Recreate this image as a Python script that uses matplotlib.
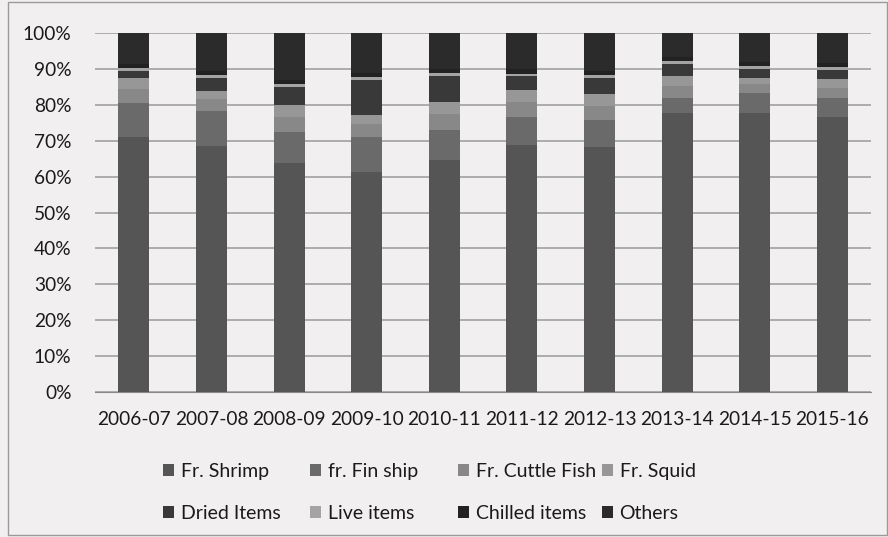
import numpy as np
import matplotlib.pyplot as plt
from matplotlib.ticker import PercentFormatter

plt.rcParams['font.family'] = ['Lato', 'DejaVu Sans']

years = ["2006-07", "2007-08", "2008-09", "2009-10", "2010-11",
         "2011-12", "2012-13", "2013-14", "2014-15", "2015-16"]

# share of export value, percent
shrimp = [71.1, 68.5, 63.9, 61.4, 64.6, 68.8, 68.3, 77.8, 77.8, 76.5]
fin_fish = [9.3, 9.9, 8.6, 9.7, 8.4, 7.9, 7.5, 4.0, 5.6, 5.3]
cuttle = [4.1, 3.1, 4.2, 3.5, 4.5, 4.2, 4.0, 3.5, 2.3, 3.0]
squid = [3.0, 2.4, 3.2, 2.6, 3.4, 3.2, 3.1, 2.7, 1.7, 2.3]
dried = [1.9, 3.5, 5.0, 9.7, 7.1, 3.8, 4.5, 3.4, 2.6, 2.6]
live = [0.8, 0.8, 0.8, 0.8, 0.8, 0.8, 0.8, 0.8, 0.8, 0.8]
chilled = [1.2, 1.2, 1.2, 1.2, 1.2, 1.2, 1.2, 1.2, 1.2, 1.2]
others = [8.6, 10.6, 13.1, 11.1, 10.0, 10.1, 10.6, 6.6, 8.0, 8.3]

labels = ["Fr. Shrimp", "fr. Fin ship", "Fr. Cuttle Fish", "Fr. Squid",
          "Dried Items", "Live items", "Chilled items", "Others"]
series = [shrimp, fin_fish, cuttle, squid, dried, live, chilled, others]
colors = ["#555555", "#6a6a6a", "#888888", "#979797",
          "#393939", "#a4a4a4", "#222222", "#2b2b2b"]

bg = "#f2eff1"
txt = "#1a1a1a"
fig = plt.figure(figsize=(8.88, 5.37), dpi=100, facecolor=bg)
ax = fig.add_axes([0.107, 0.270, 0.874, 0.6685], facecolor=bg)

x = np.arange(len(years))
bottom = np.zeros(len(years))
handles = []
for vals, lab, col in zip(series, labels, colors):
    v = np.array(vals)
    h = ax.bar(x, v, 0.4, bottom=bottom, color=col, label=lab, zorder=3)
    handles.append(h)
    bottom += v

ax.set_xlim(-0.5, len(years) - 0.5)
ax.set_ylim(0, 100)
ax.set_yticks(np.arange(0, 101, 10))
ax.yaxis.set_major_formatter(PercentFormatter(decimals=0))
ax.set_xticks(x)
ax.set_xticklabels(years)
ax.grid(axis='y', color='#9a9a9a', linewidth=1.1, zorder=0)
ax.tick_params(length=0, labelsize=13.8, colors=txt)
ax.tick_params(axis='y', pad=17)
ax.tick_params(axis='x', pad=14)
for s in ['top', 'right', 'left']:
    ax.spines[s].set_visible(False)
ax.spines['bottom'].set_color('#8a8a8a')

# legend: four columns of two entries, placed one column at a time
col_x = [163 / 888, 310 / 888, 458 / 888, 602 / 888]
for c, cx in enumerate(col_x):
    leg = fig.legend([handles[c], handles[c + 4]], [labels[c], labels[c + 4]],
                     loc='upper left', bbox_to_anchor=(cx, 0.138),
                     frameon=False, fontsize=14, handlelength=0.55,
                     handleheight=0.55, handletextpad=0.35, labelspacing=1.3,
                     borderpad=0, borderaxespad=0)
    for t in leg.get_texts():
        t.set_color(txt)

# outer frame of the chart area
fig.add_artist(plt.Rectangle((0.009, 0.004), 0.99, 0.992, transform=fig.transFigure,
                             fill=False, edgecolor='#9a9a9a', linewidth=1))

fig.savefig("out.png", dpi=100, facecolor=bg)
